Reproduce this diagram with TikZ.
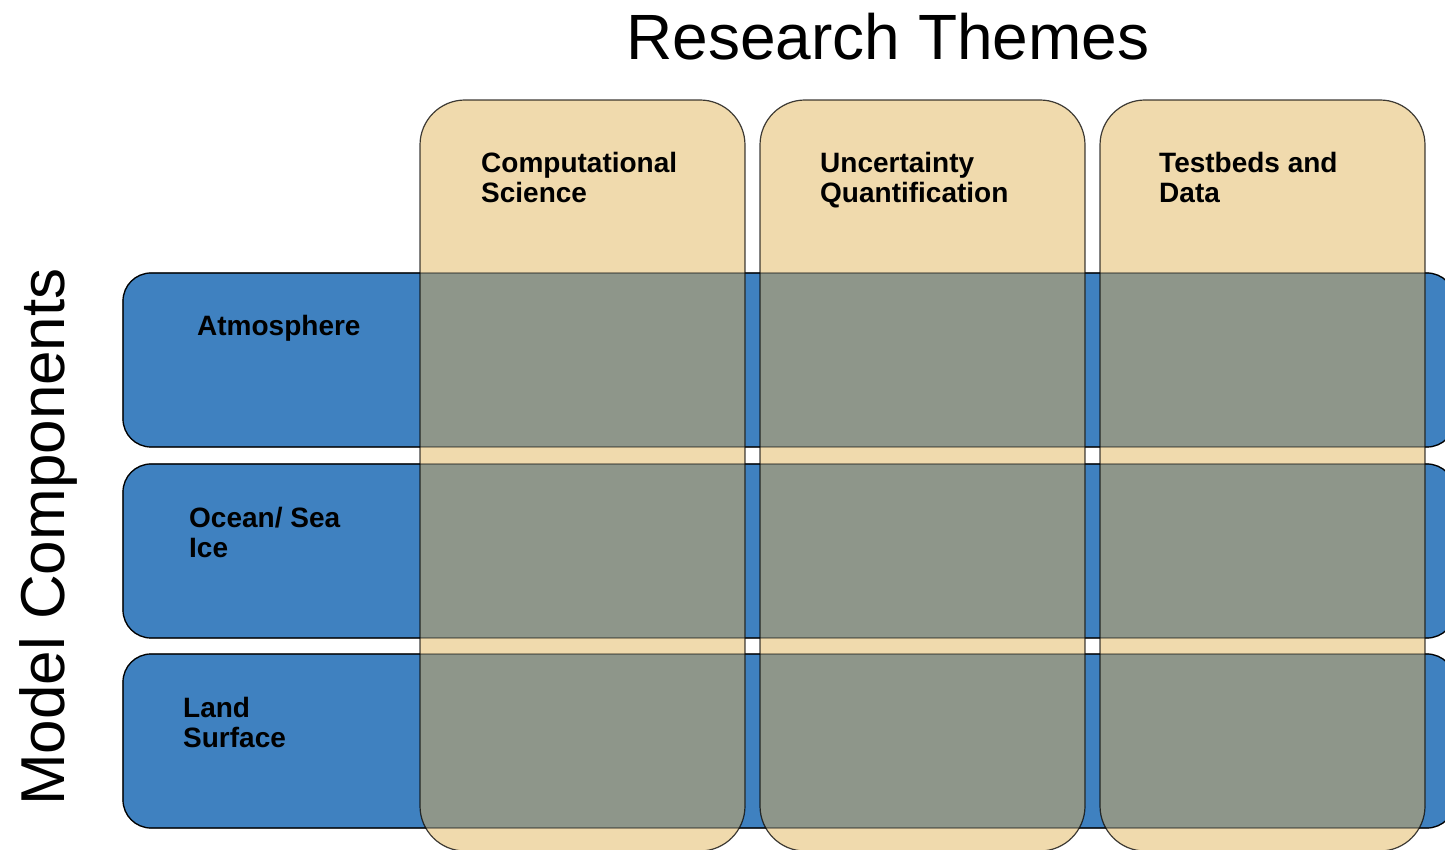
\documentclass[tikz,border=0pt]{standalone}
\usepackage{fontspec}
\setmainfont{Liberation Sans}
\definecolor{barblue}{RGB}{63,129,192}
\definecolor{themetan}{RGB}{240,218,173}
\definecolor{overlapgrey}{RGB}{142,150,138}

\begin{document}
\begin{tikzpicture}[x=1pt,y=1pt,
  component/.style={draw=black, line width=1.2pt, fill=barblue,
    rounded corners=28pt, minimum width=1332pt, minimum height=174pt,
    anchor=south west, inner sep=0pt, outer sep=0pt},
  theme/.style={fill=themetan, rounded corners=45pt,
    minimum width=325pt, minimum height=751pt,
    anchor=south west, inner sep=0pt, outer sep=0pt},
  barline/.style={draw=black, draw opacity=0.5, line width=1.2pt, rounded corners=28pt},
  themeline/.style={draw=black, draw opacity=0.75, line width=1.2pt, rounded corners=45pt},
  celllabel/.style={font=\bfseries\fontsize{28}{30}\selectfont, align=left,
    anchor=north west, inner sep=0pt},
  axislabel/.style={font=\fontsize{64}{72}\selectfont, inner sep=0pt, anchor=base}]

\useasboundingbox (0,0) rectangle (1445,849);
\begin{scope}
\clip (0,0) rectangle (1445,849);

% model component bars
\node[component] (atm) at (123,402) {};
\node[component] (ocn) at (123,211) {};
\node[component] (lnd) at (123,21) {};

% research theme columns
\node[theme] (cs) at (420,-2) {};
\node[theme] (uq) at (760,-2) {};
\node[theme] (td) at (1100,-2) {};

% overlap of every bar with every column
\foreach \b in {atm,ocn,lnd}{
  \begin{scope}
    \clip[rounded corners=28pt] (\b.south west) rectangle (\b.north east);
    \foreach \c in {cs,uq,td}{
      \fill[overlapgrey, rounded corners=45pt] (\c.south west) rectangle (\c.north east);
    }
  \end{scope}
}

% outlines on top
\foreach \b in {atm,ocn,lnd}{
  \path[barline] (\b.south west) rectangle (\b.north east);
}
\foreach \c in {cs,uq,td}{
  \path[themeline] (\c.south west) rectangle (\c.north east);
}
\end{scope}

% headings
\node[axislabel] (themes) at (888,789) {Research Themes};
\node[axislabel, rotate=90, font=\fontsize{62}{70}\selectfont] (components) at (64,312) {Model Components};

% cell labels
\node[celllabel] (cslabel) at (481,697) {Computational\\Science};
\node[celllabel] (uqlabel) at (820,697) {Uncertainty\\Quantification};
\node[celllabel] (tdlabel) at (1159,697) {Testbeds and\\Data};
\node[celllabel] (atmlabel) at (197,534) {Atmosphere};
\node[celllabel] (ocnlabel) at (189,342) {Ocean/ Sea\\Ice};
\node[celllabel] (lndlabel) at (183,152) {Land\\Surface};
\end{tikzpicture}
\end{document}
